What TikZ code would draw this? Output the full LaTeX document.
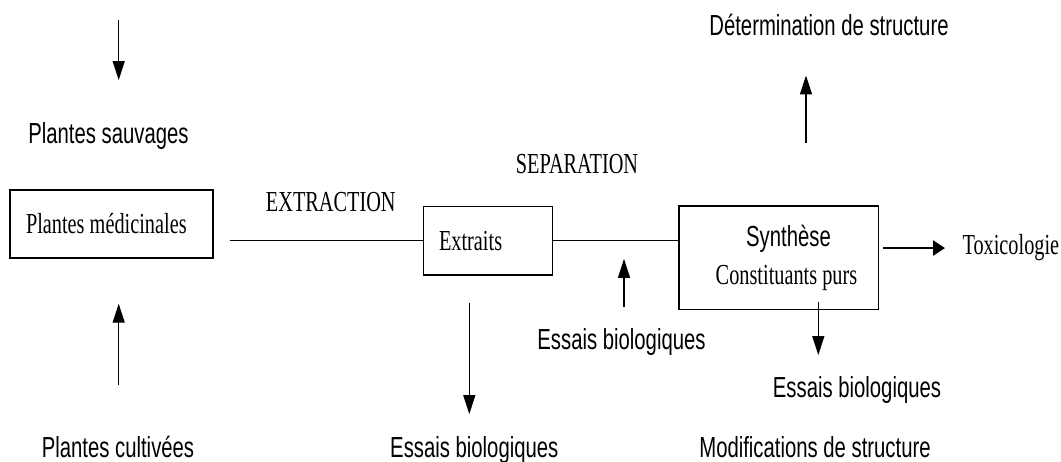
\documentclass[tikz,border=0pt]{standalone}
\usepackage{fontspec}
\setmainfont{Liberation Serif}[FakeStretch=0.7]
\newfontfamily\arialfont{Liberation Sans}[FakeStretch=0.7]
\usetikzlibrary{arrows.meta}
\tikzset{
	procbox/.style={draw, line width=1.4pt, inner ysep=0pt, font=\fontsize{29}{34}\selectfont},
	serlbl/.style={inner sep=0pt, anchor=base, font=\fontsize{29}{34}\selectfont},
	sanslbl/.style={inner sep=0pt, anchor=base, font=\fontsize{29}{34}\selectfont\arialfont},
	conn/.style={line width=1.3pt},
	arr/.style={line width=1.3pt, -{Triangle[length=19pt,width=12pt]}},
	thickarr/.style={line width=2.4pt, -{Triangle[length=12pt,width=15pt]}},
}

\begin{document}
\begin{tikzpicture}[x=1pt, y=-1pt]
		%%%%% START %%%%%
		\useasboundingbox (0, 0) rectangle (1061, 462);
		
		\node[procbox, text width=171pt, inner xsep=16pt, minimum height=68pt, align=flush left] (pm) at (111.5, 224) {Plantes médicinales};
		\node[procbox, text width=97.8pt, inner xsep=15.5pt, minimum height=68.3pt, align=flush left] (ext) at (487.9, 240.85) {Extraits};
		\node[procbox, minimum width=199.3pt, minimum height=103.3pt] (syn) at (778.7, 257.7) {};
		
		\node[sanslbl] (sauv) at (108.5, 143.3) {Plantes sauvages};
		\node[sanslbl] (cult) at (118, 457) {Plantes cultivées};
		\node[serlbl] (extr) at (330.8, 211.7) {EXTRACTION};
		\node[serlbl] (sep) at (577, 173.3) {SEPARATION};
		\node[sanslbl] (det) at (829, 35.7) {Détermination de structure};
		\node[sanslbl] (synt) at (788.5, 246.7) {Synthèse};
		\node[serlbl] (cons) at (786.5, 285) {Constituants purs};
		\node[serlbl, anchor=base west] (tox) at (962.3, 255) {Toxicologie};
		\node[sanslbl] (eb1) at (474.3, 457) {Essais biologiques};
		\node[sanslbl] (eb2) at (621.5, 350) {Essais biologiques};
		\node[sanslbl] (eb3) at (857, 398) {Essais biologiques};
		\node[sanslbl] (mod) at (815, 457.5) {Modifications de structure};
		
		\coordinate (sauvtop) at (118.7, 20);
		\coordinate (culttop) at ([xshift=0.7pt]cult.north);
		\coordinate (eb1top) at ([xshift=-5pt]eb1.north);
		\coordinate (eb2top) at ([xshift=2.5pt]eb2.north);
		\coordinate (synbot) at ([xshift=39.6pt]syn.south);
		\coordinate (syntop) at ([xshift=27.3pt]syn.north);
		
		\draw[conn, shorten <=16pt] (pm.east |- ext.west) -- (ext.west);
		\draw[conn] (ext.east) -- (ext.east -| syn.west);
		
		\draw[arr, shorten >=42pt] (sauvtop) -- (sauvtop |- sauv.north);
		\draw[arr, shorten <=50pt, shorten >=45pt] (culttop) -- (culttop |- pm.south);
		\draw[arr, shorten <=27pt, shorten >=21.7pt] (eb1top |- ext.south) -- (eb1top);
		\draw[arr, shorten <=21.7pt, shorten >=18pt] (eb2top) -- (eb2top |- ext.east);
		\draw[arr, shorten <=-7.6pt, shorten >=21.7pt] (synbot) -- (synbot |- eb3.north);
		\draw[arr, shorten <=62.7pt, shorten >=39.3pt] (syntop) -- (syntop |- det.south);
		\draw[thickarr, shorten <=4.4pt, shorten >=17.3pt] (syn.east |- tox.west) -- (tox.west);
		
		%%%%% END %%%%%
\end{tikzpicture}
\end{document}
